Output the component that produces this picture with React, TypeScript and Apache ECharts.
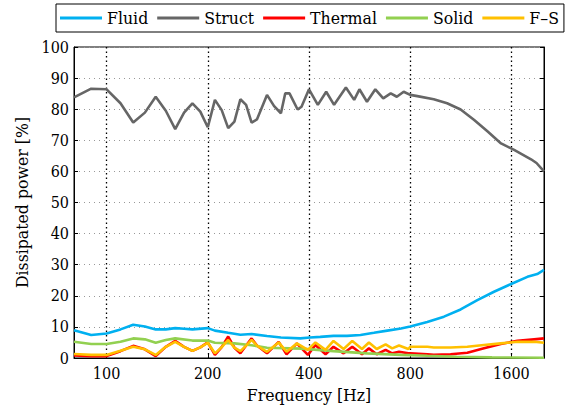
import React, { useEffect, useRef } from "react";
import * as echarts from "echarts";

const X_TICKS = [100, 200, 400, 800, 1600];
const Y_TICKS = [0, 10, 20, 30, 40, 50, 60, 70, 80, 90, 100];
const SERIES_NAMES = ["Fluid", "Struct", "Thermal", "Solid", "F\u2013S"];

const STRUCT_F = [80, 90, 100, 110, 120, 130, 140, 150, 160, 170, 180, 190, 200, 210, 220, 230, 240, 250, 260, 270, 280, 300, 315, 330, 340, 350, 370, 380, 400, 425, 450, 475, 515, 545, 565, 595, 630, 665, 700, 730, 765, 800, 840, 940, 1030, 1130, 1240, 1360, 1490, 1630, 1830, 1900, 2000];
const STRUCT_V = [83.8, 86.6, 86.4, 81.9, 75.7, 78.9, 84.0, 79.5, 73.6, 78.9, 81.9, 79.2, 74.2, 83.0, 79.7, 73.9, 76.0, 83.2, 81.4, 75.7, 76.7, 84.6, 81.0, 78.7, 85.1, 85.1, 79.9, 80.8, 86.4, 81.4, 85.6, 81.4, 87.0, 83.0, 86.4, 82.4, 86.4, 83.5, 85.1, 84.0, 85.6, 84.6, 84.2, 83.2, 81.9, 79.9, 76.5, 72.8, 69.0, 66.9, 63.9, 62.7, 60.0];

const FLUID_F = [80, 90, 100, 110, 120, 130, 140, 150, 160, 170, 180, 200, 210, 230, 250, 270, 300, 330, 377, 403, 432, 473, 519, 569, 624, 684, 751, 800, 899, 1008, 1130, 1267, 1420, 1597, 1785, 1910, 2000];
const FLUID_V = [8.9, 7.4, 7.9, 9.2, 10.7, 10.1, 9.2, 9.2, 9.6, 9.4, 9.2, 9.6, 8.8, 8.1, 7.5, 7.7, 7.1, 6.6, 6.3, 6.6, 6.8, 7.1, 7.1, 7.4, 8.1, 8.8, 9.5, 10.1, 11.6, 13.3, 15.6, 18.6, 21.3, 23.8, 26.1, 27.0, 28.3];

const SOLID_F = [80, 90, 100, 110, 120, 130, 140, 150, 160, 180, 200, 210, 240, 270, 300, 380, 473, 596, 751, 900, 1100, 1400, 2000];
const SOLID_V = [5.2, 4.5, 4.5, 5.2, 6.3, 6.0, 4.9, 5.8, 6.3, 5.6, 5.6, 4.9, 4.7, 4.1, 3.3, 3.0, 2.2, 1.5, 1.0, 0.7, 0.4, 0.2, 0.1];

const THERMAL_F = [80, 90, 100, 110, 120, 130, 140, 150, 160, 170, 180, 190, 200, 210, 220, 230, 240, 250, 260, 270, 280, 300, 325, 343, 368, 397, 418, 448, 473, 507, 538, 575, 603, 636, 676, 707, 741, 790, 800, 900, 940, 1055, 1183, 1326, 1487, 1667, 1869, 2000];
const THERMAL_V = [0.8, 0.6, 0.6, 2.2, 3.9, 2.8, 0.6, 3.6, 5.5, 3.6, 2.3, 3.4, 5.0, 1.0, 3.5, 6.9, 3.3, 1.5, 4.0, 6.3, 4.0, 1.5, 5.2, 1.2, 4.7, 1.0, 4.2, 1.2, 3.6, 1.5, 3.6, 1.2, 3.1, 1.2, 2.6, 1.5, 2.0, 1.5, 1.5, 1.2, 1.0, 1.2, 1.7, 3.1, 4.5, 5.5, 6.0, 6.3];

const FS_F = [80, 90, 100, 110, 120, 130, 140, 150, 160, 170, 180, 190, 200, 210, 220, 230, 240, 250, 260, 270, 280, 300, 325, 343, 368, 397, 418, 448, 473, 507, 538, 575, 603, 636, 676, 707, 741, 790, 800, 900, 940, 1055, 1183, 1326, 1487, 1667, 1869, 2000];
const FS_V = [1.3, 1.0, 1.0, 2.3, 3.6, 2.8, 1.0, 3.6, 5.2, 3.6, 2.3, 3.4, 4.9, 1.5, 3.5, 5.8, 3.3, 2.2, 4.0, 5.8, 4.0, 2.0, 5.0, 2.0, 4.7, 2.6, 5.0, 2.6, 5.5, 2.9, 5.5, 2.9, 5.0, 2.9, 4.4, 3.1, 4.0, 2.9, 3.6, 3.6, 3.4, 3.4, 3.6, 4.2, 4.7, 5.2, 5.2, 4.9];

const COLORS = ["#00b0f0", "#666666", "#ff0000", "#92d050", "#ffc000"];
const FONT = "DejaVu Serif Condensed";

const toPairs = (f: number[], v: number[]) => f.map((x, i) => [Math.log2(x), v[i]]);

export default function App() {
  const ref = useRef<HTMLDivElement>(null);
  useEffect(() => {
    if (!ref.current) return;
    const chart = echarts.init(ref.current, null, { renderer: "svg" });
    const xTickVals = X_TICKS.map((t) => Math.log2(t));
    const datasets = [
      toPairs(FLUID_F, FLUID_V),
      toPairs(STRUCT_F, STRUCT_V),
      toPairs(THERMAL_F, THERMAL_V),
      toPairs(SOLID_F, SOLID_V),
      toPairs(FS_F, FS_V),
    ];
    chart.setOption({
      animation: false,
      textStyle: { fontFamily: FONT },
      grid: {
        left: 74, top: 47, right: 33, bottom: 51,
        show: true, borderColor: "#000", borderWidth: 1,
        outerBoundsMode: "none", containLabel: false,
      },
      legend: {
        left: 56,
        top: 4,
        padding: [5, 5, 5, 4],
        borderColor: "#000",
        borderWidth: 1,
        icon: "rect",
        itemWidth: 42,
        itemHeight: 3,
        itemGap: 9,
        textStyle: { fontFamily: FONT, fontSize: 17.5, color: "#000" },
        data: SERIES_NAMES,
      },
      xAxis: [
        {
          type: "value",
          min: Math.log2(80),
          max: Math.log2(2000),
          name: "Frequency [Hz]",
          nameLocation: "middle",
          nameGap: 27,
          nameTextStyle: { fontFamily: FONT, fontSize: 17.5, color: "#000" },
          axisLine: { show: true, lineStyle: { color: "#000" } },
          axisTick: { show: true, inside: true, length: 4, customValues: xTickVals, lineStyle: { color: "#000" } },
          axisLabel: {
            customValues: xTickVals,
            formatter: (v: number) => String(Math.round(Math.pow(2, v))),
            fontFamily: FONT,
            fontSize: 16,
            color: "#000",
            margin: 7,
          },
          splitLine: { show: true, lineStyle: { color: "#000", type: [1.5, 3], width: 1.3 } },
        },
      ],
      yAxis: [
        {
          type: "value",
          min: 0,
          max: 100,
          interval: 10,
          name: "Dissipated power [%]",
          nameLocation: "middle",
          nameGap: 43,
          nameTextStyle: { fontFamily: FONT, fontSize: 17.5, color: "#000" },
          axisLine: { show: true, lineStyle: { color: "#000" } },
          axisTick: { show: true, inside: true, length: 4, lineStyle: { color: "#000" } },
          axisLabel: {
            fontFamily: FONT,
            fontSize: 16,
            color: "#000",
            margin: 5,
            formatter: (v: number) => (Y_TICKS.includes(v) ? String(v) : ""),
          },
          splitLine: { show: true, lineStyle: { color: "#999", type: [1, 4], width: 1 } },
        },
        {
          type: "value",
          min: 0,
          max: 100,
          interval: 10,
          position: "right",
          axisLine: { show: true, lineStyle: { color: "#000" } },
          axisTick: { show: true, inside: true, length: 4, lineStyle: { color: "#000" } },
          axisLabel: { show: false },
          splitLine: { show: false },
        },
      ],
      series: SERIES_NAMES.map((name, i) => ({
        name,
        type: "line",
        data: datasets[i],
        symbol: "none",
        color: COLORS[i],
        lineStyle: { color: COLORS[i], width: 2.6 },
        z: 2 + i,
      })),
    });
    return () => chart.dispose();
  }, []);
  return <div ref={ref} style={{ width: 577, height: 409, position: "absolute", left: 0, top: 0 }} />;
}
